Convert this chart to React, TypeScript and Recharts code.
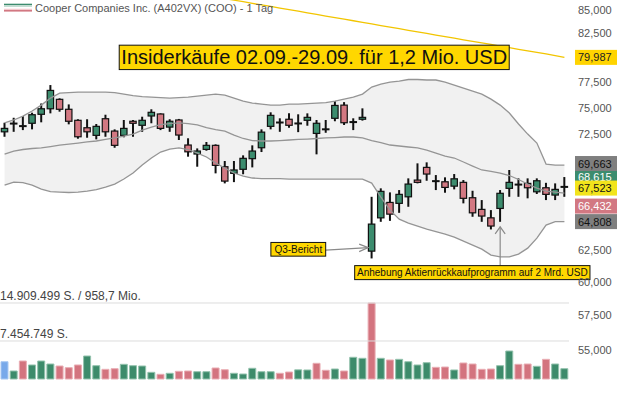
import React from "react";
import {
  ComposedChart,
  Bar,
  Line,
  Area,
  XAxis,
  YAxis,
  ReferenceLine,
  ReferenceDot,
  Cell,
} from "recharts";

const FONT = "'Liberation Sans', Arial, Helvetica, sans-serif";

// ---- OHLC (USD) ----
const opens = [
  72.71, 73.48, 73.25, 73.51, 74.36, 74.89, 75.8, 74.84, 73.79, 73.09,
  72.38, 73.94, 72.78, 72.38, 73.7, 73.32, 74.2, 74.39, 73.15, 73.82,
  71.49, 70.67, 71.09, 71.46, 69.53, 68.94, 69.3, 70.25, 71.24, 73.22,
  73.58, 73.89, 73.49, 73.79, 72.56, 72.93, 73.98, 75.24, 73.63, 73.89,
  62.4, 65.12, 66.42, 66.34, 66.9, 68.35, 69.47, 68.27, 68.2, 67.82,
  68.15, 66.82, 65.83, 65.12, 65.91, 67.63, 67.95, 68.06, 67.33, 67.68,
  67.05, 67.76,
];
const highs = [
  73.56, 74.03, 74.19, 74.51, 75.4, 77.2, 75.9, 75.31, 73.89, 73.89,
  73.44, 74.32, 72.94, 73.82, 73.82, 74.13, 74.84, 74.45, 73.89, 73.92,
  72.11, 71.18, 71.77, 71.55, 70.04, 70.04, 70.55, 71.46, 72.94, 74.55,
  73.98, 74.45, 74.36, 74.45, 73.82, 73.82, 75.63, 75.53, 73.98, 74.93,
  66.9, 67.63, 67.28, 67.48, 68.5, 69.83, 69.92, 68.79, 68.59, 68.88,
  68.35, 67.42, 66.62, 65.77, 67.48, 69.24, 68.5, 68.5, 68.5, 68.11,
  68.06, 68.615,
];
const lows = [
  72.25, 72.71, 72.87, 72.94, 73.6, 74.45, 74.61, 73.41, 72.07, 72.16,
  72.01, 72.25, 71.24, 72.2, 72.25, 72.71, 73.51, 72.87, 72.71, 71.95,
  70.43, 69.53, 70.97, 68.94, 68.06, 68.17, 68.86, 69.47, 70.85, 72.94,
  72.71, 73.09, 72.68, 73.28, 70.64, 72.62, 73.7, 73.35, 72.87, 73.76,
  61.82, 64.79, 64.87, 65.54, 66.05, 68.06, 68.29, 67.48, 67.25, 67.54,
  66.34, 65.21, 64.79, 64.16, 64.79, 66.9, 66.9, 66.77, 67.14, 66.62,
  66.62, 66.9,
];
const closes = [
  73.03, 73.52, 73.28, 74.32, 74.89, 76.67, 74.84, 73.7, 72.25, 72.71,
  73.22, 72.71, 71.46, 73.03, 73.51, 73.79, 74.55, 73.03, 73.7, 72.41,
  70.87, 70.94, 71.46, 69.65, 68.26, 69.24, 70.28, 70.94, 72.68, 74.26,
  73.62, 73.32, 73.53, 74.07, 73.51, 72.98, 75.21, 73.56, 73.66, 74.07,
  64.6, 67.37, 65.43, 67.11, 68.0, 68.15, 68.88, 68.29, 67.71, 68.46,
  66.77, 65.54, 65.27, 64.44, 67.2, 68.15, 67.99, 67.68, 68.29, 67.11,
  67.54, 67.79,
];
// volume in million shares
const volumes = [
  3.39, 1.57, 3.53, 2.75, 3.53, 2.94, 2.55, 2.22, 2.75, 4.51,
  2.61, 1.9, 2.02, 2.88, 2.61, 2.55, 1.31, 0.92, 1.12, 1.51,
  1.57, 1.43, 1.43, 2.16, 1.82, 1.12, 0.98, 2.1, 1.43, 1.43,
  1.12, 1.37, 1.8, 1.77, 3.08, 1.71, 1.96, 1.57, 4.26, 4.06,
  14.909499, 4.06, 3.73, 3.86, 3.39, 2.75, 3.2, 2.29, 2.35, 1.77,
  3.14, 2.94, 1.9, 1.96, 2.61, 5.49, 2.88, 2.94, 2.49, 3.86,
  2.94, 2.02,
];
// Bollinger bands
const bbUpper = [
  73.54, 73.82, 74.19, 74.67, 75.24, 75.92, 76.41, 76.46, 76.51, 76.51,
  76.51, 76.51, 76.46, 76.31, 76.16, 76.06, 76.02, 75.97, 75.92, 75.97,
  76.02, 76.11, 76.21, 76.31, 76.21, 75.92, 75.63, 75.44, 75.34, 75.24,
  75.24, 75.34, 75.34, 75.39, 75.44, 75.49, 75.63, 75.82, 76.02, 76.31,
  77.0, 77.3, 77.5, 77.6, 77.75, 77.75, 77.7, 77.7, 77.5, 77.2,
  76.9, 76.6, 76.31, 75.82, 75.24, 74.48, 73.44, 72.5, 71.67, 69.77,
  69.68, 69.663,
];
const bbMid = [
  70.67, 70.94, 71.08, 71.17, 71.22, 71.35, 71.49, 71.58, 71.67, 71.77,
  71.86, 72.0, 72.14, 72.32, 72.5, 72.87, 73.15, 73.39, 73.48, 73.54,
  73.48, 73.35, 73.11, 72.92, 72.78, 72.41, 72.09, 71.9, 71.86, 71.86,
  71.9, 71.95, 72.0, 72.04, 72.09, 72.14, 72.18, 72.23, 72.23, 72.14,
  71.9, 71.72, 71.49, 71.4, 71.31, 71.22, 71.03, 70.76, 70.49, 70.31,
  69.95, 69.59, 69.24, 69.11, 68.97, 68.75, 68.4, 68.0, 67.65, 67.39,
  67.31, 67.22,
];
const bbLower = [
  67.91, 68.17, 68.13, 67.91, 67.57, 67.35, 67.31, 67.27, 67.31, 67.39,
  67.52, 67.74, 68.0, 68.44, 68.97, 69.68, 70.31, 70.85, 71.12, 71.22,
  71.08, 70.76, 70.4, 69.86, 69.41, 68.97, 68.7, 68.53, 68.48, 68.48,
  68.48, 68.44, 68.44, 68.44, 68.44, 68.44, 68.44, 68.44, 68.44, 68.44,
  68.09, 66.88, 65.77, 65.01, 64.68, 64.44, 64.19, 63.98, 63.78, 63.53,
  63.21, 62.88, 62.56, 62.08, 61.95, 61.95, 62.16, 62.64, 63.45, 64.52,
  64.81, 64.808,
];
// long moving average (yellow), only the part that is inside the chart
const sma200 = [
  null, null, null, null, null, null, null, null, null, null,
  null, null, null, null, null, null, null, null, null, null,
  null, null, null, 86.42, 86.24, 86.07, 85.9, 85.72, 85.55, 85.38,
  85.2, 85.03, 84.86, 84.69, 84.51, 84.34, 84.17, 84.0, 83.83, 83.66,
  83.49, 83.32, 83.15, 82.98, 82.81, 82.65, 82.48, 82.31, 82.14, 81.98,
  81.81, 81.65, 81.48, 81.32, 81.15, 80.99, 80.82, 80.66, 80.5, 80.34,
  80.17, 79.987,
];

const priceTicks = [55, 57.5, 60, 62.5, 65, 67.5, 70, 72.5, 75, 77.5, 80, 82.5, 85];
const badgeValues = [68.615, 69.663, 67.523, 66.432, 64.808, 79.987];
const badgeFills = ["#3c8c6e", "#7f7f7f", "#f2e41c", "#d27882", "#7f7f7f", "#ffd400"];
const badgeTextColors = ["#ffffff", "#111111", "#111111", "#ffffff", "#111111", "#222222"];
const badgeShift = [0, -1.7, -1.5, 3.8, 0, 0];

const xTickIdx = [21, 42];
const xTickLabels = ["01.08.", "02.09."];

const volMarks = [14.909499, 7.4547495];
const volMarkLabels = ["14.909.499 S. / 958,7 Mio.", "7.454.749 S."];

const UP = "#3c8c6e";
const DOWN = "#d27882";

const data = opens.map((o, i) => ({
  i,
  o,
  h: highs[i],
  l: lows[i],
  c: closes[i],
  v: volumes[i],
  hl: [lows[i], highs[i]],
  bu: bbUpper[i],
  bm: bbMid[i],
  bl: bbLower[i],
  band: [bbLower[i], bbUpper[i]],
  sma: sma200[i],
}));

const volFill = (i: number) =>
  i === 0 ? "#78a9ea" : closes[i] >= closes[i - 1] ? "#3d8b6b" : "#d3747f";
const volStroke = (i: number) =>
  i === 0 ? "#a8c8f2" : closes[i] >= closes[i - 1] ? "#93c2ad" : "#e9adb4";

const fmt = (v: number) => v.toFixed(3).replace(".", ",");

const Candle = (p: any) => {
  const { x, y, width, height, payload } = p;
  if (payload == null || x == null) return null;
  const top = Math.min(y, y + height);
  const bottom = Math.max(y, y + height);
  const h = bottom - top;
  const lnH = Math.log(payload.h);
  const lnL = Math.log(payload.l);
  const toY = (v: number) =>
    lnH === lnL ? top : top + ((lnH - Math.log(v)) / (lnH - lnL)) * h;
  const cx = x + width / 2;
  const yo = toY(payload.o);
  const yc = toY(payload.c);
  const bTop = Math.min(yo, yc);
  const bBot = Math.max(yo, yc);
  const up = payload.c >= payload.o;
  return (
    <g>
      <line x1={cx} x2={cx} y1={top} y2={bottom} stroke="#111" strokeWidth={2} />
      <rect
        x={cx - 3.2}
        y={bTop}
        width={6.4}
        height={Math.max(bBot - bTop, 0.8)}
        fill={up ? UP : DOWN}
        stroke="#111"
        strokeWidth={1.2}
      />
    </g>
  );
};

const PriceTick = (p: any) => {
  const v = p.payload.value;
  const bi = badgeValues.indexOf(v);
  if (bi >= 0) {
    const y = p.y + badgeShift[bi];
    return (
      <g>
        <rect x={p.x - 2} y={y - 7.5} width={42} height={15} fill={badgeFills[bi]} />
        <text x={p.x + 1} y={y + 4} fontSize={11} fontFamily={FONT} fill={badgeTextColors[bi]}>
          {fmt(v)}
        </text>
      </g>
    );
  }
  return (
    <text x={p.x + 1} y={p.y + 4} fontSize={11} fontFamily={FONT} fill="#555">
      {fmt(v)}
    </text>
  );
};

const DateTick = (p: any) => {
  const k = xTickIdx.indexOf(p.payload.value);
  return (
    <text x={p.x} y={p.y + 3.5} textAnchor="middle" fontSize={11} fontFamily={FONT} fill="#444">
      {k >= 0 ? xTickLabels[k] : ""}
    </text>
  );
};

const VolLabel = (text: string) => (p: any) => {
  const vb = p.viewBox || {};
  return (
    <text x={vb.x} y={vb.y - 2.8} fontSize={12} fontFamily={FONT} fill="#444">
      {text}
    </text>
  );
};

const InsiderShape = (p: any) => {
  const cx = p.cx - 2.4;
  const cy = p.cy;
  return (
    <g>
      <rect x={cx - 195} y={cy - 12.2} width={390} height={24.4} fill="#ffd700" stroke="#111" strokeWidth={1} />
      <text x={cx} y={cy + 6.9} textAnchor="middle" fontSize={20} fontFamily={FONT} fill="#111">
        Insiderkäufe 02.09.-29.09. für 1,2 Mio. USD
      </text>
    </g>
  );
};

const Q3Shape = (p: any) => {
  const cx = p.cx;
  const cy = p.cy;
  const tipX = cx - 3.5;
  return (
    <g>
      <line x1={cx - 46} y1={cy + 2.5} x2={tipX} y2={cy} stroke="#8a8a8a" strokeWidth={1.2} />
      <polyline
        points={`${tipX - 9},${cy - 3.5} ${tipX},${cy} ${tipX - 9},${cy + 4}`}
        fill="none"
        stroke="#8a8a8a"
        strokeWidth={1.2}
      />
      <rect x={cx - 100.8} y={cy - 5.2} width={54.8} height={13.7} fill="#ffd700" stroke="#111" strokeWidth={1} />
      <text x={cx - 73.4} y={cy + 5.2} textAnchor="middle" fontSize={10} fontFamily={FONT} fill="#111">
        Q3-Bericht
      </text>
    </g>
  );
};

const BuybackShape = (p: any) => {
  const cx = p.cx;
  const cy = p.cy;
  const tipY = cy + 5;
  return (
    <g>
      <line x1={cx} y1={cy + 43.8} x2={cx} y2={tipY} stroke="#8a8a8a" strokeWidth={1.2} />
      <polyline
        points={`${cx - 5},${tipY + 7} ${cx},${tipY} ${cx + 5},${tipY + 7}`}
        fill="none"
        stroke="#8a8a8a"
        strokeWidth={1.2}
      />
      <rect x={cx - 145.5} y={cy + 43.8} width={235.3} height={14} fill="#ffd700" stroke="#111" strokeWidth={1} />
      <text x={cx - 143.2} y={cy + 54.6} fontSize={10} fontFamily={FONT} fill="#111">
        Anhebung Aktienrückkaufprogramm auf 2 Mrd. USD
      </text>
    </g>
  );
};

export default function App() {
  return (
    <div
      style={{
        position: "fixed",
        left: 0,
        top: 0,
        width: 619,
        height: 399,
        background: "#fff",
        overflow: "hidden",
      }}
    >
      <ComposedChart
        width={619}
        height={399}
        data={data}
        margin={{ top: 0, right: 0, bottom: 0, left: 0 }}
      >
        <XAxis
          xAxisId="x"
          dataKey="i"
          ticks={xTickIdx}
          interval={0}
          tick={<DateTick />}
          axisLine={false}
          tickLine={false}
          height={20}
        />
        <XAxis xAxisId="c" dataKey="i" hide />
        <YAxis
          yAxisId="p"
          orientation="right"
          scale="log"
          domain={[52.97, 86.09]}
          allowDataOverflow
          ticks={[...priceTicks, ...badgeValues]}
          interval={0}
          tick={<PriceTick />}
          axisLine={false}
          tickLine={false}
          width={50}
        />
        <YAxis yAxisId="v" domain={[0, 74.35]} hide />

        <Area
          xAxisId="c"
          yAxisId="p"
          dataKey="band"
          type="linear"
          fill="#f1f1f1"
          fillOpacity={1}
          stroke="none"
          dot={false}
          activeDot={false}
          isAnimationActive={false}
        />
        <Line xAxisId="c" yAxisId="p" dataKey="bu" type="linear" stroke="#959595" strokeWidth={1.3} dot={false} activeDot={false} isAnimationActive={false} />
        <Line xAxisId="c" yAxisId="p" dataKey="bm" type="linear" stroke="#959595" strokeWidth={1.3} dot={false} activeDot={false} isAnimationActive={false} />
        <Line xAxisId="c" yAxisId="p" dataKey="bl" type="linear" stroke="#959595" strokeWidth={1.3} dot={false} activeDot={false} isAnimationActive={false} />
        <Line xAxisId="c" yAxisId="p" dataKey="sma" type="linear" stroke="#f2c500" strokeWidth={1.3} dot={false} activeDot={false} connectNulls={false} isAnimationActive={false} />

        {volMarks.map((m, k) => (
          <ReferenceLine
            key={"vm" + k}
            xAxisId="x"
            yAxisId="v"
            y={m}
            stroke="#dcdcdc"
            strokeWidth={1}
            label={VolLabel(volMarkLabels[k])}
          />
        ))}

        <Bar xAxisId="x" yAxisId="v" dataKey="v" barSize={7} isAnimationActive={false}>
          {data.map((d, i) => (
            <Cell key={"vc" + i} fill={volFill(i)} stroke={volStroke(i)} strokeWidth={1} />
          ))}
        </Bar>

        <ReferenceDot xAxisId="c" yAxisId="p" x={34} y={79.987} r={0} ifOverflow="visible" shape={InsiderShape} />
        <ReferenceDot xAxisId="c" yAxisId="p" x={40} y={62.68} r={0} ifOverflow="visible" shape={Q3Shape} />
        <ReferenceDot xAxisId="c" yAxisId="p" x={54} y={64.79} r={0} ifOverflow="visible" shape={BuybackShape} />

        <Bar xAxisId="c" yAxisId="p" dataKey="hl" barSize={7} shape={Candle} isAnimationActive={false} />
      </ComposedChart>

      <svg
        width={300}
        height={20}
        style={{ position: "absolute", left: 0, top: 0, pointerEvents: "none" }}
      >
        <line x1={4} x2={32} y1={4.5} y2={4.5} stroke="#3c8c6e" strokeWidth={1.6} />
        <line x1={4} x2={32} y1={6.3} y2={6.3} stroke="#b5d5c7" strokeWidth={1} />
        <line x1={4} x2={32} y1={9.3} y2={9.3} stroke="#f0bcc2" strokeWidth={1} />
        <line x1={4} x2={32} y1={10.8} y2={10.8} stroke="#d27882" strokeWidth={1.6} />
        <text x={35} y={12.4} fontSize={11} fontFamily={FONT} fill="#555">
          Cooper Companies Inc. (A402VX) (COO) - 1 Tag
        </text>
      </svg>
    </div>
  );
}
